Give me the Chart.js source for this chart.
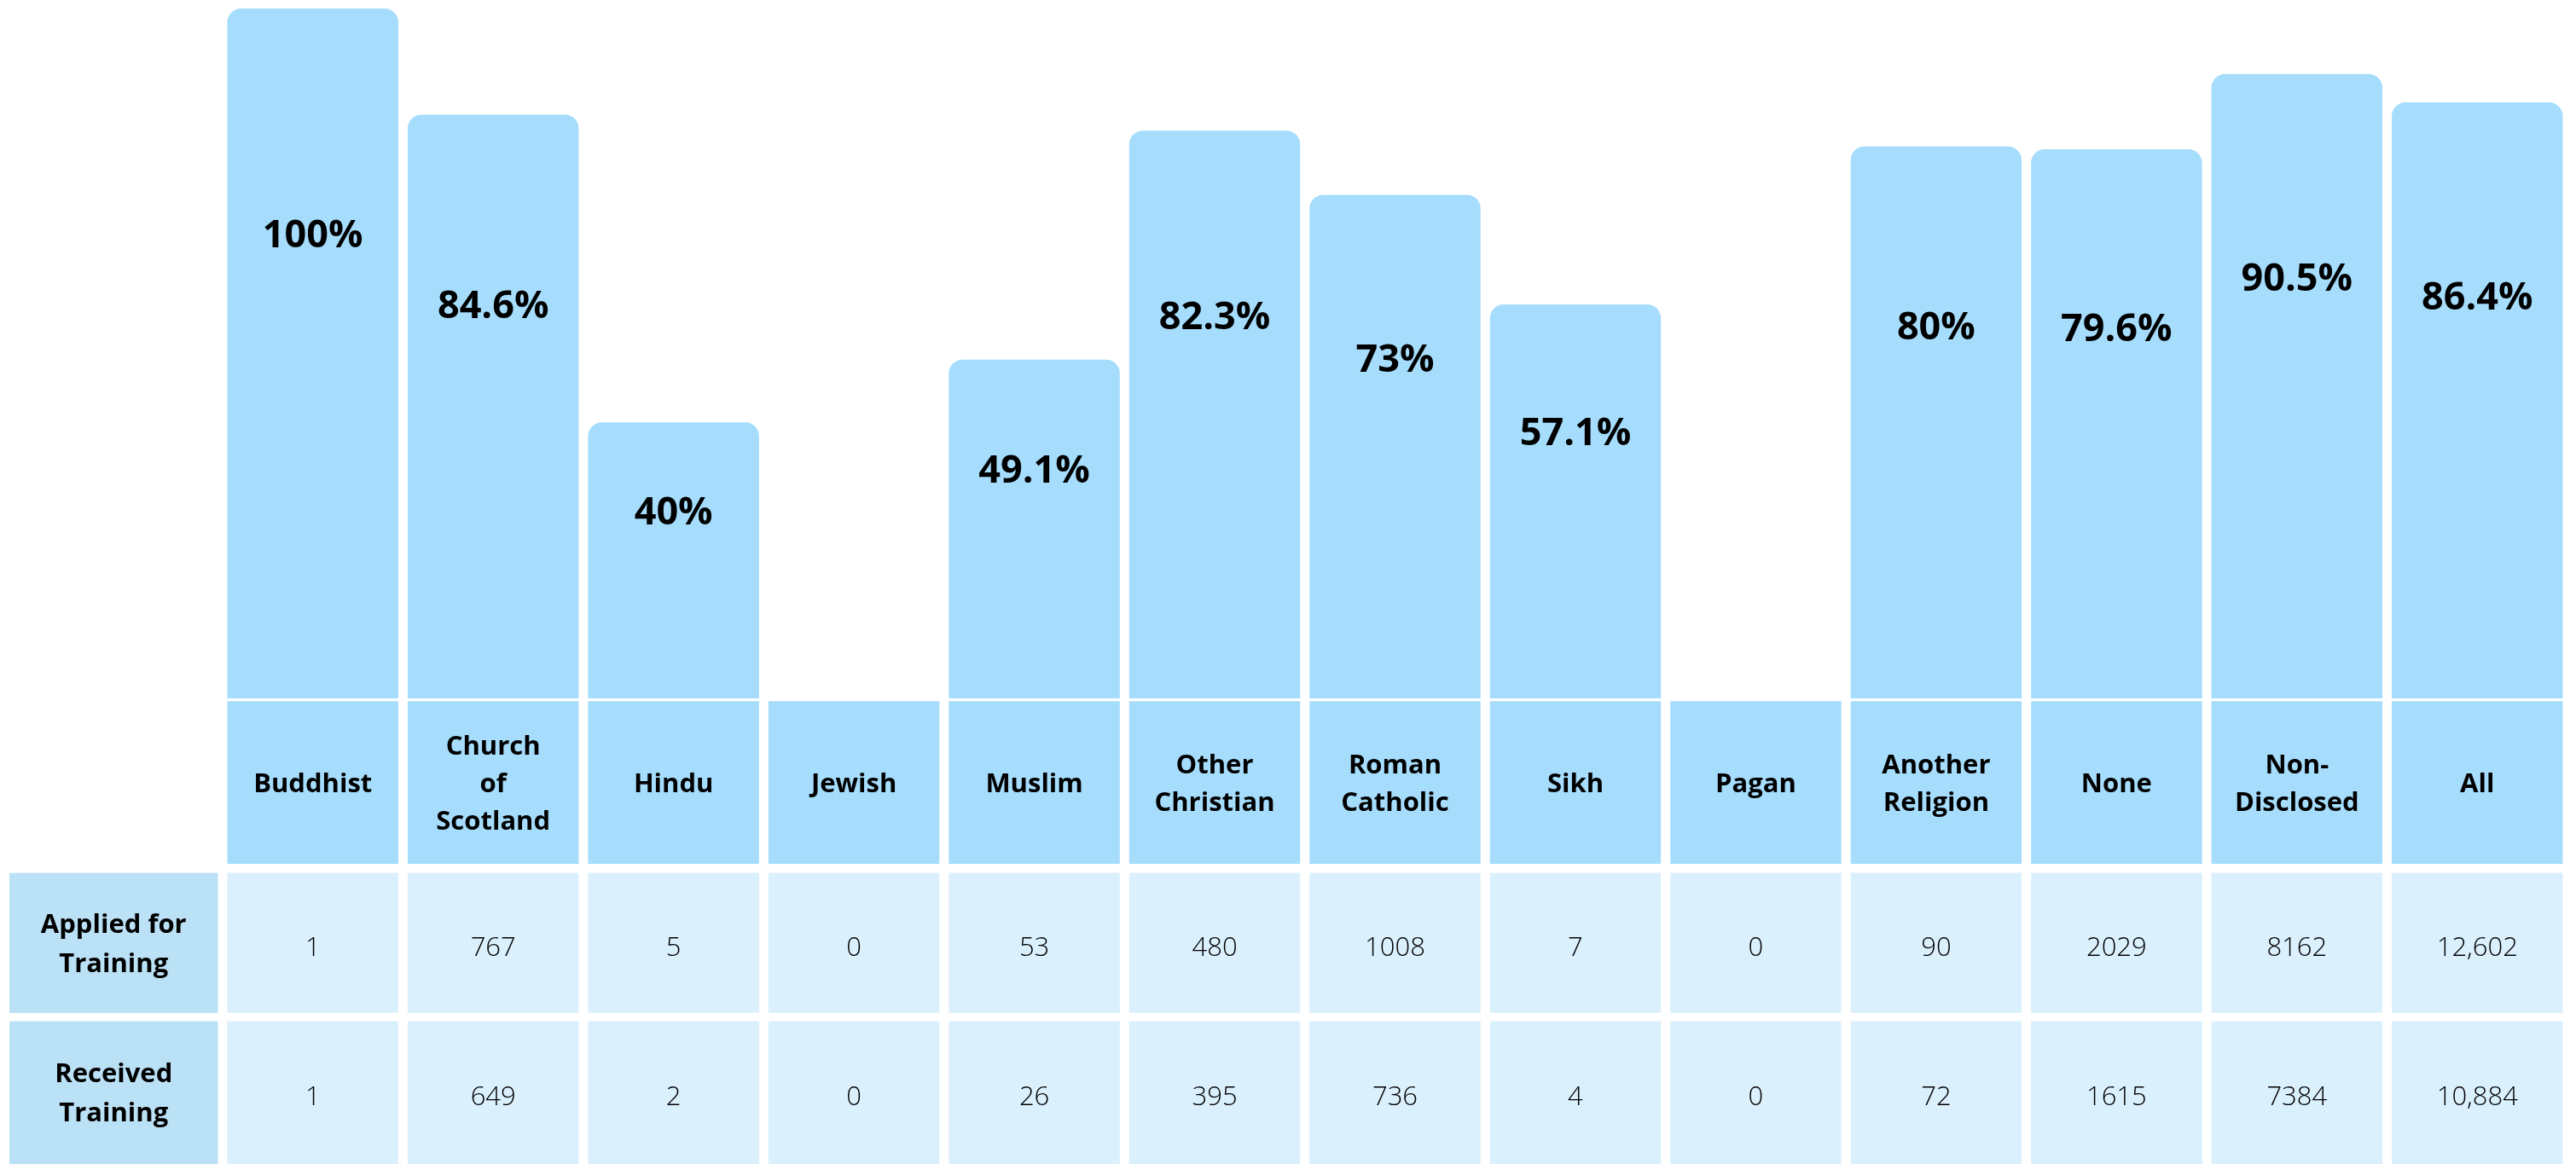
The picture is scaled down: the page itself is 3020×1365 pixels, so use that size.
<!DOCTYPE html>
<html>
<head>
<meta charset="utf-8">
<script src="https://cdn.jsdelivr.net/npm/chart.js@4"></script>
<style>
  html, body { margin: 0; padding: 0; background: #ffffff; }
  #wrap { width: 3020px; height: 1365px; position: relative; }
</style>
</head>
<body>
<div id="wrap"><canvas id="chart"></canvas></div>
<script>
// categories (one entry per line of the header cell)
const categories = [
  ["Buddhist"],
  ["Church", "of", "Scotland"],
  ["Hindu"],
  ["Jewish"],
  ["Muslim"],
  ["Other", "Christian"],
  ["Roman", "Catholic"],
  ["Sikh"],
  ["Pagan"],
  ["Another", "Religion"],
  ["None"],
  ["Non-", "Disclosed"],
  ["All"],
];

// % who received training (no bar where nobody applied)
const receivedPct = [100, 84.6, 40, null, 49.1, 82.3, 73, 57.1, null, 80, 79.6, 90.5, 86.4];

const appliedCounts = [1, 767, 5, 0, 53, 480, 1008, 7, 0, 90, 2029, 8162, 12602];
const receivedCounts = [1, 649, 2, 0, 26, 395, 736, 4, 0, 72, 1615, 7384, 10884];

const rowLabels = [["Applied for", "Training"], ["Received", "Training"]];

// table bands below the bars, in y-axis units
const HEADER_BAND = [-24, -0.4];
const APPLIED_BAND = [-45.6, -25.3];
const RECEIVED_BAND = [-67.5, -46.8];

const BAR_BLUE = "#a6ddfd";
const ROW_HEAD_BLUE = "#bbe1f6";
const CELL_BLUE = "#dbf0fd";
const FONT = "'Open Sans', 'Noto Sans', sans-serif";

function fmtCount(v) {
  return v >= 10000 ? v.toLocaleString("en-GB") : String(v);
}

function band(range) {
  return categories.map(() => range);
}

const tableText = {
  id: "tableText",
  afterDatasetsDraw(chart) {
    const ctx = chart.ctx;
    const x = chart.scales.x;
    const y = chart.scales.y;
    const first = chart.getDatasetMeta(1).data[0];
    ctx.save();
    ctx.textAlign = "center";
    ctx.textBaseline = "middle";
    ctx.fillStyle = "#000000";

    // percentage labels inside the bars
    ctx.font = "bold 45px " + FONT;
    receivedPct.forEach((v, i) => {
      if (v === null) return;
      ctx.fillText(v + "%", x.getPixelForValue(i), y.getPixelForValue(v * 0.67));
    });

    // category header cells
    ctx.font = "bold 31px " + FONT;
    const lh = 44;
    const hMid = y.getPixelForValue((HEADER_BAND[0] + HEADER_BAND[1]) / 2) + 3;
    categories.forEach((lines, i) => {
      const top = hMid - ((lines.length - 1) * lh) / 2;
      lines.forEach((t, k) => ctx.fillText(t, x.getPixelForValue(i), top + k * lh));
    });

    // count rows
    ctx.font = "300 31px " + FONT;
    const aMid = y.getPixelForValue((APPLIED_BAND[0] + APPLIED_BAND[1]) / 2) + 6;
    const rMid = y.getPixelForValue((RECEIVED_BAND[0] + RECEIVED_BAND[1]) / 2) + 6;
    appliedCounts.forEach((v, i) => ctx.fillText(fmtCount(v), x.getPixelForValue(i), aMid));
    receivedCounts.forEach((v, i) => ctx.fillText(fmtCount(v), x.getPixelForValue(i), rMid));

    // row header cells to the left of the first column
    const right = first.x - first.width / 2 - 11;
    const left = 11;
    [APPLIED_BAND, RECEIVED_BAND].forEach((b, r) => {
      const top = y.getPixelForValue(b[1]);
      const bottom = y.getPixelForValue(b[0]);
      ctx.fillStyle = ROW_HEAD_BLUE;
      ctx.fillRect(left, top, right - left, bottom - top);
      ctx.fillStyle = "#000000";
      ctx.font = "bold 31px " + FONT;
      const mid = (top + bottom) / 2 + 2;
      const lines = rowLabels[r];
      lines.forEach((t, k) => ctx.fillText(t, (left + right) / 2, mid + (k - (lines.length - 1) / 2) * 46));
    });
    ctx.restore();
  },
};

const ctx = document.getElementById("chart").getContext("2d");
new Chart(ctx, {
  type: "bar",
  data: {
    labels: categories.map((c) => c.join(" ")),
    datasets: [
      {
        label: "Received training (%)",
        data: receivedPct,
        backgroundColor: BAR_BLUE,
        borderRadius: { topLeft: 16, topRight: 16 },
        borderSkipped: "bottom",
        grouped: false,
      },
      {
        label: "header",
        data: band(HEADER_BAND),
        backgroundColor: BAR_BLUE,
        grouped: false,
      },
      {
        label: "Applied for Training",
        data: band(APPLIED_BAND),
        backgroundColor: CELL_BLUE,
        grouped: false,
      },
      {
        label: "Received Training",
        data: band(RECEIVED_BAND),
        backgroundColor: CELL_BLUE,
        grouped: false,
      },
    ],
  },
  options: {
    responsive: true,
    maintainAspectRatio: false,
    animation: false,
    layout: { padding: { top: 10, left: 261, right: 10, bottom: 0 } },
    datasets: { bar: { categoryPercentage: 1, barPercentage: 0.948 } },
    scales: {
      x: { display: false },
      y: { display: false, min: RECEIVED_BAND[0], max: 100 },
    },
    plugins: {
      legend: { display: false },
      tooltip: { enabled: false },
    },
  },
  plugins: [tableText],
});
</script>
</body>
</html>
